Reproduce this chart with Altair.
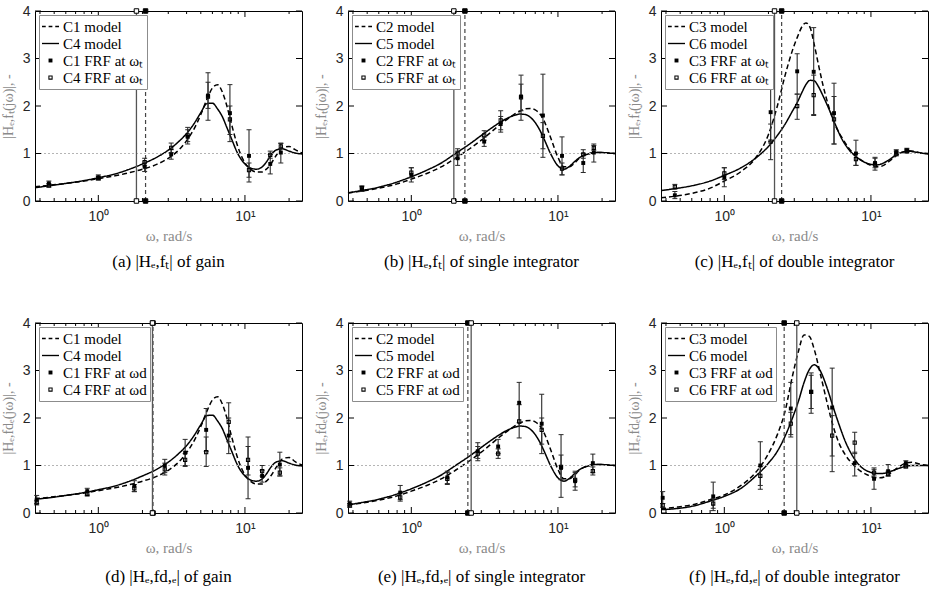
import altair as alt
import pandas as pd

# ---------------- axis settings ----------------
X_DOMAIN = [0.37, 24.5]
Y_DOMAIN = [0, 4]
X_MAJOR = [1, 10]
X_MINOR = [0.4, 0.5, 0.6, 0.7, 0.8, 0.9, 2, 3, 4, 5, 6, 7, 8, 9, 20]
Y_TICKS = [0, 1, 2, 3, 4]
REF_LEVEL = [1]

# FRF measurement frequencies (rad/s)
W_T = [0.46, 1.0, 2.07, 3.14, 4.07, 5.6, 7.9, 10.66, 14.88, 17.57]
W_D = [0.38, 0.84, 1.76, 2.84, 3.91, 5.44, 7.75, 10.5, 13.1, 17.3]

# ---------------- model curves ----------------
W_GRID = [0.37, 0.46, 0.6, 0.8, 1.0, 1.3, 1.6, 2.0, 2.5, 3.0, 3.5, 4.0, 4.5, 5.0, 5.5, 6.0,
          6.5, 7.0, 7.5, 8.0, 9.0, 10.0, 11.0, 12.0, 13.0, 14.0, 15.0, 16.5, 18.0, 20.0, 22.0, 24.5]

A_DASH = [0.30, 0.33, 0.37, 0.42, 0.47, 0.53, 0.59, 0.67, 0.77, 0.90, 1.06, 1.27, 1.52, 1.82, 2.14, 2.38,
          2.45, 2.30, 2.02, 1.68, 1.12, 0.80, 0.66, 0.61, 0.61, 0.67, 0.78, 0.98, 1.12, 1.15, 1.08, 1.01]
A_SOLID = [0.28, 0.32, 0.37, 0.43, 0.49, 0.57, 0.66, 0.78, 0.92, 1.07, 1.24, 1.42, 1.63, 1.86, 2.05, 2.06,
           1.94, 1.78, 1.56, 1.35, 0.98, 0.78, 0.69, 0.67, 0.71, 0.82, 0.96, 1.08, 1.10, 1.05, 1.01, 0.99]

B_DASH = [0.17, 0.21, 0.27, 0.36, 0.46, 0.59, 0.72, 0.90, 1.10, 1.28, 1.45, 1.60, 1.72, 1.82, 1.89, 1.94,
          1.95, 1.92, 1.84, 1.70, 1.30, 0.92, 0.72, 0.72, 0.80, 0.90, 0.96, 1.00, 1.02, 1.02, 1.01, 1.00]
B_SOLID = [0.17, 0.22, 0.29, 0.40, 0.51, 0.66, 0.80, 1.00, 1.20, 1.38, 1.53, 1.65, 1.74, 1.80, 1.83, 1.82,
           1.76, 1.65, 1.50, 1.32, 0.97, 0.74, 0.67, 0.73, 0.83, 0.91, 0.96, 1.00, 1.02, 1.02, 1.01, 1.00]

C_W = [0.37, 0.46, 0.6, 0.8, 1.0, 1.3, 1.6, 2.0, 2.3, 2.6, 2.9, 3.15, 3.4, 3.6, 3.85, 4.1, 4.4, 4.7,
       5.2, 5.7, 6.3, 7.0, 8.0, 9.0, 10.0, 11.0, 12.0, 13.5, 15.0, 16.5, 18.0, 20.0, 22.0, 24.5]
C_DASH = [0.07, 0.10, 0.16, 0.27, 0.42, 0.62, 0.87, 1.40, 2.00, 2.65, 3.15, 3.45, 3.68, 3.75, 3.65, 3.30,
          2.85, 2.45, 1.95, 1.60, 1.35, 1.13, 0.93, 0.82, 0.75, 0.72, 0.74, 0.85, 0.96, 1.03, 1.06, 1.04,
          1.01, 1.00]
C_SOLID = [0.22, 0.26, 0.32, 0.42, 0.54, 0.70, 0.88, 1.15, 1.38, 1.62, 1.88, 2.08, 2.30, 2.45, 2.54, 2.53,
           2.40, 2.22, 1.92, 1.62, 1.32, 1.10, 0.92, 0.82, 0.77, 0.76, 0.79, 0.88, 0.98, 1.03, 1.05, 1.03,
           1.01, 0.99]

D_DASH = [0.30, 0.33, 0.37, 0.42, 0.47, 0.53, 0.59, 0.67, 0.77, 0.90, 1.06, 1.27, 1.52, 1.82, 2.14, 2.38,
          2.45, 2.30, 2.02, 1.68, 1.12, 0.80, 0.66, 0.61, 0.61, 0.67, 0.78, 0.98, 1.14, 1.17, 1.08, 1.01]
D_SOLID = [0.29, 0.32, 0.37, 0.43, 0.49, 0.57, 0.66, 0.78, 0.92, 1.07, 1.24, 1.42, 1.63, 1.86, 2.05, 2.06,
           1.94, 1.78, 1.56, 1.35, 0.98, 0.78, 0.69, 0.67, 0.71, 0.82, 0.96, 1.08, 1.10, 1.05, 1.01, 0.99]

E_DASH = [0.17, 0.21, 0.27, 0.36, 0.46, 0.59, 0.72, 0.90, 1.10, 1.28, 1.45, 1.60, 1.72, 1.82, 1.89, 1.94,
          1.95, 1.92, 1.84, 1.70, 1.30, 0.92, 0.72, 0.72, 0.80, 0.90, 0.96, 1.00, 1.02, 1.02, 1.01, 1.00]
E_SOLID = [0.17, 0.22, 0.29, 0.40, 0.51, 0.66, 0.80, 1.00, 1.20, 1.38, 1.53, 1.65, 1.74, 1.80, 1.83, 1.82,
           1.76, 1.65, 1.50, 1.32, 0.97, 0.74, 0.67, 0.73, 0.83, 0.91, 0.96, 1.00, 1.02, 1.02, 1.01, 1.00]

F_W = [0.37, 0.46, 0.6, 0.8, 1.0, 1.3, 1.6, 2.0, 2.3, 2.6, 2.9, 3.2, 3.5, 3.8, 4.1, 4.5, 5.0, 5.5,
       6.0, 6.7, 7.5, 8.5, 9.5, 10.5, 11.5, 12.6, 14.0, 15.5, 17.2, 19.0, 21.5, 24.5]
F_DASH = [0.09, 0.12, 0.17, 0.28, 0.38, 0.58, 0.82, 1.25, 1.65, 2.15, 2.85, 3.40, 3.75, 3.72, 3.45, 2.95,
          2.35, 1.85, 1.50, 1.22, 1.03, 0.88, 0.80, 0.75, 0.74, 0.77, 0.87, 0.97, 1.05, 1.07, 1.03, 1.00]
F_SOLID = [0.07, 0.09, 0.14, 0.25, 0.35, 0.52, 0.75, 1.05, 1.30, 1.62, 1.98, 2.35, 2.75, 3.02, 3.12, 3.00,
           2.65, 2.25, 1.90, 1.50, 1.20, 0.98, 0.88, 0.84, 0.83, 0.84, 0.89, 0.94, 0.98, 1.00, 1.00, 1.00]

# ---------------- FRF estimates with error bars ----------------
A_F = [0.37, 0.50, 0.72, 0.98, 1.35, 2.22, 1.85, 0.95, 0.78, 1.02]
A_F_LO = [0.32, 0.45, 0.62, 0.88, 1.20, 1.95, 1.25, 0.40, 0.57, 0.80]
A_F_HI = [0.42, 0.55, 0.82, 1.08, 1.50, 2.50, 2.45, 1.50, 0.98, 1.22]
A_O = [0.33, 0.48, 0.82, 1.12, 1.38, 2.20, 1.72, 0.65, 0.97, 1.15]
A_O_LO = [0.29, 0.44, 0.74, 1.02, 1.25, 1.70, 1.40, 0.50, 0.90, 1.10]
A_O_HI = [0.37, 0.52, 0.90, 1.22, 1.55, 2.70, 2.00, 0.80, 1.05, 1.21]

B_F = [0.25, 0.55, 0.90, 1.25, 1.62, 2.20, 1.80, 0.95, 0.80, 1.02]
B_F_LO = [0.20, 0.40, 0.75, 1.15, 1.45, 1.70, 0.92, 0.55, 0.60, 0.82]
B_F_HI = [0.30, 0.70, 1.05, 1.35, 1.78, 2.65, 2.67, 1.35, 1.00, 1.20]
B_O = [0.27, 0.60, 1.00, 1.38, 1.70, 2.18, 1.37, 0.68, 0.98, 1.12]
B_O_LO = [0.22, 0.50, 0.90, 1.28, 1.50, 1.90, 1.10, 0.55, 0.90, 1.07]
B_O_HI = [0.32, 0.70, 1.10, 1.48, 1.90, 2.46, 1.65, 0.80, 1.08, 1.17]

C_F = [0.12, 0.50, 1.87, 2.73, 2.72, 1.85, 1.00, 0.80, 1.03, 1.07]
C_F_LO = [0.05, 0.30, 1.25, 2.25, 1.80, 1.20, 0.75, 0.70, 0.97, 1.02]
C_F_HI = [0.20, 0.70, 2.50, 3.10, 3.65, 2.48, 1.28, 0.92, 1.08, 1.11]
C_O = [0.30, 0.58, 1.25, 2.00, 2.23, 1.72, 0.88, 0.77, 1.00, 1.05]
C_O_LO = [0.25, 0.45, 0.87, 1.72, 1.82, 1.20, 0.75, 0.65, 0.95, 1.01]
C_O_HI = [0.35, 0.70, 1.62, 2.25, 2.65, 2.20, 1.00, 0.90, 1.05, 1.09]

D_F = [0.28, 0.46, 0.57, 1.00, 1.27, 1.75, 1.63, 0.95, 0.78, 1.02]
D_F_LO = [0.20, 0.38, 0.45, 0.85, 0.98, 1.30, 1.25, 0.30, 0.65, 0.78]
D_F_HI = [0.37, 0.52, 0.68, 1.13, 1.55, 2.20, 2.00, 1.60, 0.90, 1.28]
D_O = [0.22, 0.40, 0.52, 0.92, 1.12, 1.28, 1.92, 1.12, 0.88, 0.85]
D_O_LO = [0.17, 0.36, 0.45, 0.80, 1.00, 0.98, 1.50, 0.80, 0.78, 0.78]
D_O_HI = [0.27, 0.45, 0.60, 1.05, 1.25, 1.60, 2.32, 1.40, 1.00, 0.95]

E_F = [0.20, 0.43, 0.75, 1.30, 1.40, 2.32, 1.88, 0.95, 0.67, 1.05]
E_F_LO = [0.15, 0.28, 0.62, 1.15, 1.25, 1.90, 1.25, 0.33, 0.48, 0.85]
E_F_HI = [0.25, 0.58, 0.88, 1.48, 1.55, 2.75, 2.50, 1.65, 0.88, 1.24]
E_O = [0.16, 0.33, 0.72, 1.25, 1.25, 1.93, 1.75, 0.97, 0.70, 0.88]
E_O_LO = [0.12, 0.25, 0.60, 1.10, 1.15, 1.58, 1.45, 0.70, 0.55, 0.80]
E_O_HI = [0.20, 0.42, 0.85, 1.40, 1.35, 2.28, 2.00, 1.22, 0.85, 0.97]

F_F = [0.32, 0.35, 1.00, 2.20, 2.55, 2.22, 1.05, 0.72, 0.88, 1.05]
F_F_LO = [0.20, 0.05, 0.50, 1.60, 2.10, 0.87, 0.78, 0.50, 0.78, 1.00]
F_F_HI = [0.45, 0.65, 1.50, 2.75, 2.95, 3.05, 1.28, 0.95, 1.02, 1.10]
F_O = [0.16, 0.20, 0.78, 1.88, 2.55, 1.63, 1.48, 0.85, 0.82, 0.98]
F_O_LO = [0.12, 0.10, 0.58, 1.65, 2.20, 1.20, 1.25, 0.78, 0.78, 0.95]
F_O_HI = [0.20, 0.30, 0.98, 2.12, 2.90, 2.05, 1.70, 0.92, 0.88, 1.02]

# crossover frequencies [dashed (filled marker), solid (open marker)]
A_XO = [2.10, 1.82]
B_XO = [2.32, 1.95]
C_XO = [2.46, 2.20]
D_XO = [2.36, 2.34]
E_XO = [2.43, 2.56]
F_XO = [2.56, 3.12]

# ---------------- text ----------------
YT_T = "|Hₑ,fₜ(jω)|, -"
YT_D = "|Hₑ,fdₑ(jω)|, -"
XT = "ω, rad/s"
CAPTIONS = ["(a) |Hₑ,fₜ| of gain", "(b) |Hₑ,fₜ| of single integrator", "(c) |Hₑ,fₜ| of double integrator",
            "(d) |Hₑ,fd,ₑ| of gain", "(e) |Hₑ,fd,ₑ| of single integrator", "(f) |Hₑ,fd,ₑ| of double integrator"]

SERIF = "Liberation Serif"
SANS = "Liberation Sans"
GRAY_T = "#8a8a8a"

# legend / marker glyphs as filled unit-box SVG paths (no stroke needed)
SYM_DASH = ("M-1,-0.08H-0.56V0.08H-1Z M-0.22,-0.08H0.22V0.08H-0.22Z "
            "M0.56,-0.08H1V0.08H0.56Z")
SYM_SOLID = "M-1,-0.08H1V0.08H-1Z"
SYM_SQUARE = "M-0.23,-0.23H0.23V0.23H-0.23Z"
SYM_RING = "M-0.25,-0.25H0.25V0.25H-0.25Z M-0.13,-0.13V0.13H0.13V-0.13Z"
SYM_SIZE = 289

XS = alt.Scale(type="log", domain=X_DOMAIN, nice=False)
YS = alt.Scale(domain=Y_DOMAIN, nice=False, zero=False)


def panel(ctrl_a, ctrl_b, sub, ytitle, caption, w_model_d, m_d, w_model_s, m_s,
          w_frf, f, flo, fhi, o, olo, ohi, xo, cap_offset):
    names = [f"{ctrl_a} model", f"{ctrl_b} model", f"{ctrl_a} FRF at ω{sub}", f"{ctrl_b} FRF at ω{sub}"]
    models = pd.DataFrame({
        "w": list(w_model_d) + list(w_model_s),
        "m": list(m_d) + list(m_s),
        "series": [names[0]] * len(w_model_d) + [names[1]] * len(w_model_s),
    })
    frf = pd.DataFrame({
        "w": list(w_frf) * 2,
        "m": list(f) + list(o),
        "lo": list(flo) + list(olo),
        "hi": list(fhi) + list(ohi),
        "series": [names[2]] * len(f) + [names[3]] * len(o),
    })
    xo_dash = pd.DataFrame({"w": [xo[0], xo[0]], "y": Y_DOMAIN})
    xo_solid = pd.DataFrame({"w": [xo[1], xo[1]], "y": Y_DOMAIN})
    xmaj = pd.DataFrame({"v": X_MAJOR})
    xmin = pd.DataFrame({"v": X_MINOR})
    yt = pd.DataFrame({"v": Y_TICKS})
    ref = pd.DataFrame({"v": REF_LEVEL})

    leg = alt.Legend(title=None, orient="top-left", offset=4, padding=3, strokeColor="#8c8c8c",
                     fillColor="white", labelFont=SERIF, labelFontSize=15, labelColor="black",
                     rowPadding=0, symbolStrokeWidth=0, labelOffset=4, symbolSize=SYM_SIZE,
                     cornerRadius=0, labelLimit=200)
    sdash = alt.Scale(domain=names[:2], range=[[5, 3], [1, 0]])
    sshape = alt.Scale(domain=names, range=[SYM_DASH, SYM_SOLID, SYM_SQUARE, SYM_RING])

    xaxis = alt.Axis(values=X_MAJOR, labelExpr="datum.value == 1 ? '10⁰' : '10¹'", tickSize=0,
                     grid=False, domain=False, title=XT, titleFont=SERIF, titleFontSize=15,
                     titleFontWeight="normal", titleColor=GRAY_T, labelFont=SANS, labelFontSize=14,
                     labelColor="#262626", labelPadding=8, titlePadding=5)
    yaxis = alt.Axis(values=Y_TICKS, tickSize=0, grid=False, domain=False, title=ytitle,
                     titleFont=SERIF, titleFontSize=14, titleFontWeight="normal", titleColor=GRAY_T,
                     labelFont=SANS, labelFontSize=14, labelColor="#262626", labelPadding=5,
                     titlePadding=7)

    def X(field="w"):
        return alt.X(f"{field}:Q", scale=XS)

    def Y(field):
        return alt.Y(f"{field}:Q", scale=YS)

    refline = alt.Chart(ref).mark_rule(color="#b5b5b5", strokeDash=[2, 2], strokeWidth=1).encode(
        y=Y("v"))
    xo_d_line = alt.Chart(xo_dash).mark_rule(color="#444444", strokeWidth=1.2, strokeDash=[4, 3]).encode(
        x=X(), y=alt.Y("min(y):Q", scale=YS), y2="max(y):Q")
    xo_s_line = alt.Chart(xo_solid).mark_rule(color="#555555", strokeWidth=1.3).encode(
        x=X(), y=alt.Y("min(y):Q", scale=YS), y2="max(y):Q")
    lines = alt.Chart(models).mark_line(color="black", strokeWidth=1.5, interpolate="monotone").encode(
        x=alt.X("w:Q", scale=XS, axis=xaxis),
        y=alt.Y("m:Q", scale=YS, axis=yaxis),
        strokeDash=alt.StrokeDash("series:N", scale=sdash, legend=None),
    )
    ebar = alt.Chart(frf).mark_rule(color="#2a2a2a", strokeWidth=1.1).encode(x=X(), y=Y("lo"), y2="hi:Q")
    cap_lo = alt.Chart(frf).mark_tick(orient="horizontal", size=5, thickness=1, color="#2a2a2a",
                                      opacity=1).encode(x=X(), y=Y("lo"))
    cap_hi = alt.Chart(frf).mark_tick(orient="horizontal", size=5, thickness=1, color="#2a2a2a",
                                      opacity=1).encode(x=X(), y=Y("hi"))
    pts = alt.Chart(frf).mark_point(filled=True, fill="black", strokeWidth=0, opacity=1,
                                    size=SYM_SIZE).encode(
        x=X(), y=Y("m"),
        shape=alt.Shape("series:N", scale=sshape, legend=leg),
    )
    xo_d_pts = alt.Chart(xo_dash).mark_point(shape="square", filled=True, fill="black", stroke="black",
                                             strokeWidth=1, size=20, opacity=1).encode(x=X(), y=Y("y"))
    xo_s_pts = alt.Chart(xo_solid).mark_point(shape="square", filled=True, fill="white", stroke="black",
                                              strokeWidth=1, size=20, opacity=1).encode(x=X(), y=Y("y"))
    # inward box ticks
    tk = dict(thickness=1, color="black", opacity=1)
    t_bmaj = alt.Chart(xmaj).mark_tick(orient="vertical", size=6, yOffset=-3, **tk).encode(
        x=X("v"), y=alt.YDatum(Y_DOMAIN[0], scale=YS))
    t_tmaj = alt.Chart(xmaj).mark_tick(orient="vertical", size=6, yOffset=3, **tk).encode(
        x=X("v"), y=alt.YDatum(Y_DOMAIN[1], scale=YS))
    t_bmin = alt.Chart(xmin).mark_tick(orient="vertical", size=3, yOffset=-1.5, **tk).encode(
        x=X("v"), y=alt.YDatum(Y_DOMAIN[0], scale=YS))
    t_tmin = alt.Chart(xmin).mark_tick(orient="vertical", size=3, yOffset=1.5, **tk).encode(
        x=X("v"), y=alt.YDatum(Y_DOMAIN[1], scale=YS))
    t_l = alt.Chart(yt).mark_tick(orient="horizontal", size=6, xOffset=3, **tk).encode(
        x=alt.XDatum(X_DOMAIN[0], scale=XS), y=Y("v"))
    t_r = alt.Chart(yt).mark_tick(orient="horizontal", size=6, xOffset=-3, **tk).encode(
        x=alt.XDatum(X_DOMAIN[1], scale=XS), y=Y("v"))

    return alt.layer(
        lines, refline, xo_d_line, xo_s_line, ebar, cap_lo, cap_hi, pts, xo_d_pts, xo_s_pts,
        t_bmaj, t_tmaj, t_bmin, t_tmin, t_l, t_r,
    ).properties(
        width=267, height=190,
        title=alt.TitleParams(caption, orient="bottom", font=SERIF, fontSize=17, fontWeight="normal",
                              color="black", anchor="middle", offset=cap_offset),
    )


pa = panel("C1", "C4", "ₜ", YT_T, CAPTIONS[0], W_GRID, A_DASH, W_GRID, A_SOLID,
           W_T, A_F, A_F_LO, A_F_HI, A_O, A_O_LO, A_O_HI, A_XO, 11)
pb = panel("C2", "C5", "ₜ", YT_T, CAPTIONS[1], W_GRID, B_DASH, W_GRID, B_SOLID,
           W_T, B_F, B_F_LO, B_F_HI, B_O, B_O_LO, B_O_HI, B_XO, 11)
pc = panel("C3", "C6", "ₜ", YT_T, CAPTIONS[2], C_W, C_DASH, C_W, C_SOLID,
           W_T, C_F, C_F_LO, C_F_HI, C_O, C_O_LO, C_O_HI, C_XO, 11)
pd_ = panel("C1", "C4", "d", YT_D, CAPTIONS[3], W_GRID, D_DASH, W_GRID, D_SOLID,
            W_D, D_F, D_F_LO, D_F_HI, D_O, D_O_LO, D_O_HI, D_XO, 14)
pe = panel("C2", "C5", "d", YT_D, CAPTIONS[4], W_GRID, E_DASH, W_GRID, E_SOLID,
           W_D, E_F, E_F_LO, E_F_HI, E_O, E_O_LO, E_O_HI, E_XO, 14)
pf = panel("C3", "C6", "d", YT_D, CAPTIONS[5], F_W, F_DASH, F_W, F_SOLID,
           W_D, F_F, F_F_LO, F_F_HI, F_O, F_O_LO, F_O_HI, F_XO, 14)

indep = dict(shape="independent", strokeDash="independent")

row1 = alt.hconcat(pa, pb, pc, spacing=7).resolve_scale(**indep).resolve_legend(**indep)
row2 = alt.hconcat(pd_, pe, pf, spacing=7).resolve_scale(**indep).resolve_legend(**indep)

chart = alt.vconcat(row1, row2, spacing=44).resolve_scale(**indep).resolve_legend(**indep).properties(
    padding={"left": 0, "top": 3, "right": 0, "bottom": 0},
    background="white",
).configure_view(stroke="black", strokeWidth=1)

chart.save("out.html", embed_options={"renderer": "svg", "actions": False})
